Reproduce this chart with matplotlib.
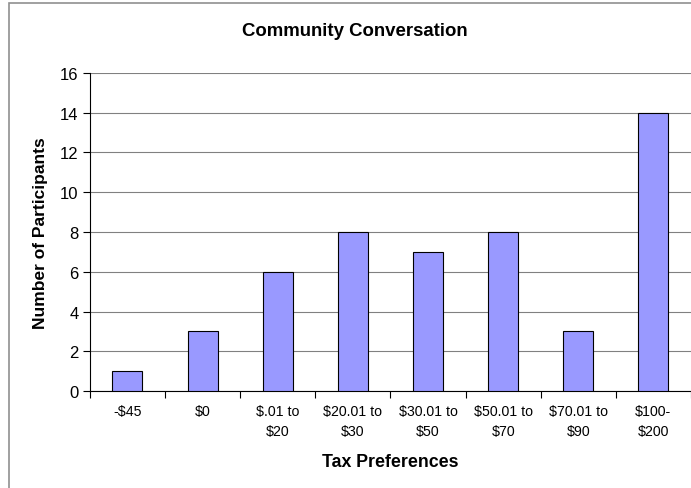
import matplotlib.pyplot as plt
from matplotlib.patches import Rectangle

categories = ['-$45', '$0', '$.01 to\n$20', '$20.01 to\n$30', '$30.01 to\n$50',
              '$50.01 to\n$70', '$70.01 to\n$90', '$100-\n$200']
participants = [1, 3, 6, 8, 7, 8, 3, 14]
y_ticks = [0, 2, 4, 6, 8, 10, 12, 14, 16]

plt.rcParams['font.family'] = ['Liberation Sans', 'DejaVu Sans']

fig = plt.figure(figsize=(6.91, 4.89), dpi=100)
ax = fig.add_axes([0.130, 0.198, 0.870, 0.651])

x = list(range(len(categories)))
ax.bar(x, participants, width=0.4, color='#9999FF', edgecolor='black', linewidth=0.8, zorder=3)

ax.set_xlim(-0.5, len(categories) - 0.5)
ax.set_ylim(0, 16)
ax.set_yticks(y_ticks)
ax.set_yticklabels([str(v) for v in y_ticks], fontsize=12)
ax.set_xticks([i - 0.5 for i in range(len(categories) + 1)], minor=False)
ax.set_xticklabels([])
ax.set_xticks(x, minor=True)
ax.set_xticklabels(categories, minor=True, fontsize=10.2, linespacing=1.55)
ax.tick_params(axis='x', which='minor', length=0, pad=9)
ax.tick_params(axis='x', which='major', direction='out', length=5, width=0.8, color='black')
ax.tick_params(axis='y', direction='out', length=5, width=0.8, color='black', pad=3)

ax.grid(axis='y', color='#808080', linewidth=0.8, zorder=0)
for side in ['top', 'right']:
    ax.spines[side].set_visible(False)
ax.spines['left'].set_linewidth(0.8)
ax.spines['bottom'].set_linewidth(0.8)

fig.text(355 / 691, 1 - 32 / 489, 'Community Conversation', fontsize=13.4, fontweight='bold',
         ha='center', va='center')
ax.set_xlabel('Tax Preferences', fontsize=12.8, fontweight='bold', labelpad=11)
ax.set_ylabel('Number of Participants', fontsize=12.5, fontweight='bold', labelpad=9)

fig.patches.append(Rectangle((9 / 691, -0.1), 1.1, 1.1 - 4 / 489, transform=fig.transFigure,
                             fill=False, edgecolor='#909090', linewidth=1.2))

fig.savefig('out.png', dpi=100)
